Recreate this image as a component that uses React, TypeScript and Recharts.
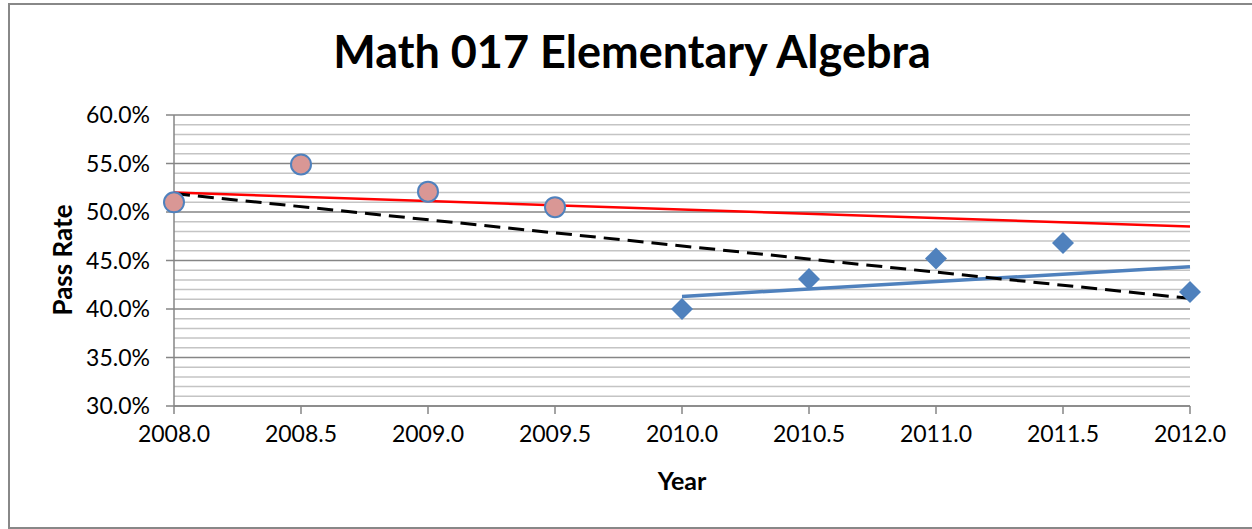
import { ScatterChart, Scatter, XAxis, YAxis, CartesianGrid, ReferenceLine } from 'recharts';

const xTicks = [2008, 2008.5, 2009, 2009.5, 2010, 2010.5, 2011, 2011.5, 2012];
const yTicks = [0.3, 0.35, 0.4, 0.45, 0.5, 0.55, 0.6];
const minorY = [
  0.31, 0.32, 0.33, 0.34, 0.36, 0.37, 0.38, 0.39, 0.41, 0.42, 0.43, 0.44,
  0.46, 0.47, 0.48, 0.49, 0.51, 0.52, 0.53, 0.54, 0.56, 0.57, 0.58, 0.59,
];

const earlyYears = [2008, 2008.5, 2009, 2009.5];
const earlyRates = [0.51, 0.549, 0.521, 0.505];
const lateYears = [2010, 2010.5, 2011, 2011.5, 2012];
const lateRates = [0.4, 0.431, 0.452, 0.468, 0.4175];

// trendline endpoints
const redTrend = [{ x: 2008, y: 0.52 }, { x: 2012, y: 0.485 }];
const blueTrend = [{ x: 2010, y: 0.413 }, { x: 2012, y: 0.4435 }];
const allTrend = [{ x: 2008, y: 0.519 }, { x: 2012, y: 0.411 }];

const early = earlyYears.map((x, i) => ({ x, y: earlyRates[i] }));
const late = lateYears.map((x, i) => ({ x, y: lateRates[i] }));

const FONT = 'Lato, sans-serif';
const AXIS = '#868686';

const Circle = (p: any) => (
  <circle cx={p.cx} cy={p.cy} r={10} fill="#D99795" stroke="#4F81BD" strokeWidth={2} />
);

const Diamond = (p: any) => {
  const s = 11;
  return (
    <path
      d={`M${p.cx},${p.cy - s} L${p.cx + s},${p.cy} L${p.cx},${p.cy + s} L${p.cx - s},${p.cy} Z`}
      fill="#4F81BD"
    />
  );
};

const NoDot = () => <g />;

export default function App() {
  return (
    <div style={{ position: 'fixed', left: 0, top: 0, width: 1252, height: 529, overflow: 'hidden', background: '#fff', fontFamily: FONT }}>
      <div style={{ position: 'absolute', left: 8, top: 3, width: 1270, height: 522, border: '2px solid #888' }} />
      <div style={{ position: 'absolute', left: 0, top: 24, width: 1264, textAlign: 'center', fontSize: 45, fontWeight: 700, lineHeight: '54px' }}>
        Math 017 Elementary Algebra
      </div>
      <div style={{ position: 'absolute', left: 62, top: 260, transform: 'translate(-50%, -50%) rotate(-90deg)', fontSize: 26, fontWeight: 700, whiteSpace: 'nowrap' }}>
        Pass Rate
      </div>
      <div style={{ position: 'absolute', left: 682, top: 480, transform: 'translate(-50%, -50%)', fontSize: 25, fontWeight: 700 }}>
        Year
      </div>
      <div style={{ position: 'absolute', left: 0, top: 0 }}>
        <ScatterChart width={1252} height={529} margin={{ top: 115, right: 62, left: 0, bottom: 0 }}>
          {minorY.map((v) => (
            <ReferenceLine key={v} y={v} stroke="#C4C4C4" strokeWidth={1.5} />
          ))}
          <CartesianGrid vertical={false} stroke={AXIS} strokeWidth={1.5} />
          <XAxis
            type="number"
            dataKey="x"
            domain={[2008, 2012]}
            ticks={xTicks}
            interval={0}
            tickFormatter={(v: number) => v.toFixed(1)}
            height={123}
            tickSize={8}
            tickMargin={12}
            stroke={AXIS}
            strokeWidth={1.5}
            tick={{ fill: '#000', fontSize: 23, fontFamily: FONT }}
          />
          <YAxis
            type="number"
            dataKey="y"
            domain={[0.3, 0.6]}
            ticks={yTicks}
            interval={0}
            tickFormatter={(v: number) => `${(v * 100).toFixed(1)}%`}
            width={174}
            tickSize={8}
            tickMargin={16}
            stroke={AXIS}
            strokeWidth={1.5}
            tick={{ fill: '#000', fontSize: 23, fontFamily: FONT }}
          />
          <Scatter data={redTrend} line={{ stroke: '#FF0000', strokeWidth: 2.5 }} shape={NoDot} isAnimationActive={false} />
          <Scatter data={blueTrend} line={{ stroke: '#4F81BD', strokeWidth: 3.5 }} shape={NoDot} isAnimationActive={false} />
          <Scatter data={allTrend} line={{ stroke: '#000', strokeWidth: 3, strokeDasharray: '16 8' }} shape={NoDot} isAnimationActive={false} />
          <Scatter data={early} shape={Circle} isAnimationActive={false} />
          <Scatter data={late} shape={Diamond} isAnimationActive={false} />
        </ScatterChart>
      </div>
    </div>
  );
}
